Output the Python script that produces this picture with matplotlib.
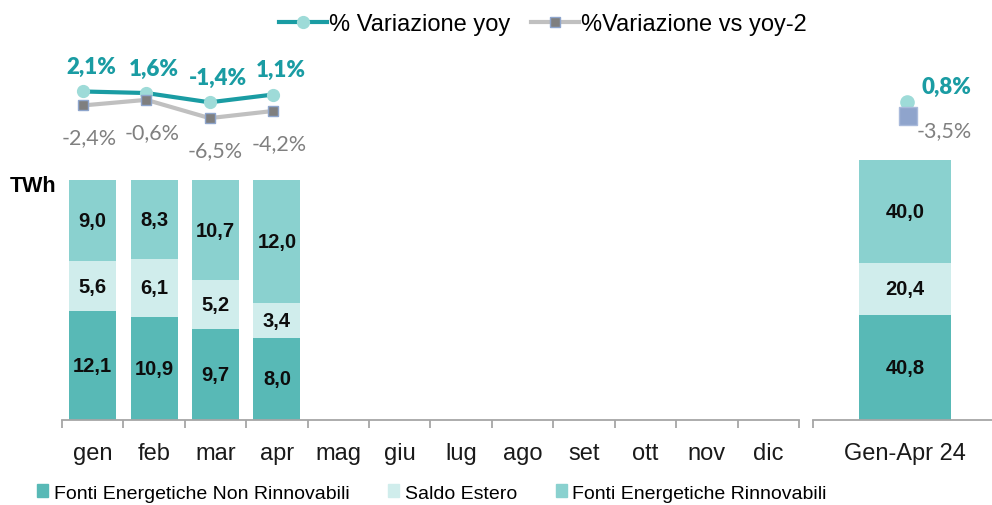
import numpy as np
import matplotlib
matplotlib.use('Agg')
import matplotlib.pyplot as plt
from matplotlib.lines import Line2D
from matplotlib.patches import Patch

plt.rcParams['font.family'] = ['Liberation Sans', 'DejaVu Sans']

# data
mesi = ['gen', 'feb', 'mar', 'apr', 'mag', 'giu', 'lug', 'ago', 'set', 'ott', 'nov', 'dic']
non_rinnovabili = [12.1, 10.9, 9.7, 8.0]
saldo_estero = [5.6, 6.1, 5.2, 3.4]
rinnovabili = [9.0, 8.3, 10.7, 12.0]
var_yoy = [2.1, 1.6, -1.4, 1.1]
var_yoy2 = [-2.4, -0.6, -6.5, -4.2]

tot_label = 'Gen-Apr 24'
tot_non_rinn = 40.8
tot_saldo = 20.4
tot_rinn = 40.0
tot_yoy = 0.8
tot_yoy2 = -3.5

c_non = '#58b9b6'
c_saldo = '#d0edec'
c_rinn = '#8ad1cf'
c_teal = '#1a9ca3'
c_circ = '#9edbd8'
c_grey = '#c0c0c0'
c_sq = '#7f7f7f'
c_sq_edge = '#8ea5cc'
c_axis = '#a6a6a6'

fig = plt.figure(figsize=(9.92, 5.06), dpi=100)

def share(a, b, c):
    a, b, c = np.array(a), np.array(b), np.array(c)
    t = a + b + c
    return a / t, b / t, c / t

def stack(ax, x, vals, width):
    s1, s2, s3 = share(*vals)
    bottoms = [np.zeros_like(s1), s1, s1 + s2]
    for sh, bt, col, raw in zip([s1, s2, s3], bottoms, [c_non, c_saldo, c_rinn], vals):
        ax.bar(x, sh, width, bottom=bt, color=col, zorder=2)
        for xi, h, b, v in zip(x, sh, bt, raw):
            ax.text(xi, b + h / 2, f'{v:.1f}'.replace('.', ','), ha='center', va='center',
                    fontsize=14.5, fontweight='bold', color='#0d0d0d', zorder=3)

def style_axis(ax, n):
    for s in ['top', 'right', 'left']:
        ax.spines[s].set_visible(False)
    ax.spines['bottom'].set_color(c_axis)
    ax.spines['bottom'].set_linewidth(1.3)
    ax.set_yticks([])
    ax.set_xlim(-0.5, n - 0.5)
    ax.set_xticks(np.arange(n))
    ax.tick_params(axis='x', which='major', length=0, pad=16, labelsize=17, labelcolor='#1a1a1a')
    ax.set_xticks(np.arange(n + 1) - 0.5, minor=True)
    ax.tick_params(axis='x', which='minor', length=6, width=1.3, color=c_axis)

# left panel (monthly)
rect_l = [62 / 992, 85 / 506, 737 / 992, 361 / 506]
ax = fig.add_axes(rect_l)
x = np.arange(len(non_rinnovabili))
stack(ax, x, (non_rinnovabili, saldo_estero, rinnovabili), 0.765)
style_axis(ax, len(mesi))
ax.set_xticklabels(mesi)
ax.set_ylim(0, 1.504)

axl = fig.add_axes(rect_l)
axl.axis('off')
axl.set_xlim(-0.332, 11.31)
axl.set_ylim(-103.9, 12.58)
axl.plot(x, var_yoy, color=c_teal, lw=3, marker='o', ms=8.5, mfc=c_circ, mec=c_circ, zorder=3)
axl.plot(x, var_yoy2, color=c_grey, lw=3, marker='s', ms=7, mfc=c_sq, mec=c_sq_edge, mew=1, zorder=4)
for xi, v in zip(x, var_yoy):
    axl.annotate(f'{v:.1f}%'.replace('.', ','), (xi, v), xytext=(8, 25), textcoords='offset pixels',
                 ha='center', va='center', fontsize=16, fontweight='heavy', color=c_teal, family='Lato')
for xi, v in zip(x, var_yoy2):
    axl.annotate(f'{v:.1f}%'.replace('.', ','), (xi, v), xytext=(6, -32), textcoords='offset pixels',
                 ha='center', va='center', fontsize=15.5, color='#808080', family='Lato')

# right panel (cumulative)
rect_r = [813 / 992, 85 / 506, 184 / 992, 361 / 506]
ax2 = fig.add_axes(rect_r)
stack(ax2, [0], ([tot_non_rinn], [tot_saldo], [tot_rinn]), 0.5)
style_axis(ax2, 1)
ax2.set_xticklabels([tot_label])
ax2.set_ylim(0, 1.388)

axr = fig.add_axes(rect_r)
axr.axis('off')
axr.set_xlim(-0.5, 0.5)
axr.set_ylim(-93.6, 13.56)
axr.plot([0.01], [tot_yoy], marker='o', ms=9.5, mfc=c_circ, mec=c_circ, ls='none')
axr.plot([0.015], [tot_yoy2], marker='s', ms=13, mfc='#8fa4cc', mec='#a9badb', mew=1, ls='none')
axr.annotate(f'{tot_yoy:.1f}%'.replace('.', ','), (0, tot_yoy), xytext=(41, 16), textcoords='offset pixels',
             ha='center', va='center', fontsize=16, fontweight='heavy', color=c_teal, family='Lato')
axr.annotate(f'{tot_yoy2:.1f}%'.replace('.', ','), (0, tot_yoy2), xytext=(39, -14), textcoords='offset pixels',
             ha='center', va='center', fontsize=15.5, color='#808080', family='Lato')

fig.text(10 / 992, 1 - 186 / 506, 'TWh', fontsize=15.5, fontweight='bold', va='center', ha='left')

# legends
top_handles = [
    Line2D([], [], color=c_teal, lw=3, marker='o', ms=8.5, mfc=c_circ, mec=c_circ),
    Line2D([], [], color=c_grey, lw=3, marker='s', ms=7, mfc=c_sq, mec=c_sq_edge),
]
fig.legend(top_handles, ['% Variazione yoy', '%Variazione vs yoy-2'], loc='center',
           bbox_to_anchor=(543 / 992, 1 - 25 / 506), ncol=2, frameon=False, fontsize=17,
           handlelength=2.0, handletextpad=0.1, columnspacing=0.9)

bot_handles = [Patch(color=c_non), Patch(color=c_saldo), Patch(color=c_rinn)]
fig.legend(bot_handles, ['Fonti Energetiche Non Rinnovabili', 'Saldo Estero', 'Fonti Energetiche Rinnovabili'],
           loc='center', bbox_to_anchor=(432 / 992, 1 - 494 / 506), ncol=3, frameon=False, fontsize=14,
           handlelength=0.55, handleheight=0.65, handletextpad=0.3, columnspacing=2.0)

fig.savefig('out.png', dpi=100)
